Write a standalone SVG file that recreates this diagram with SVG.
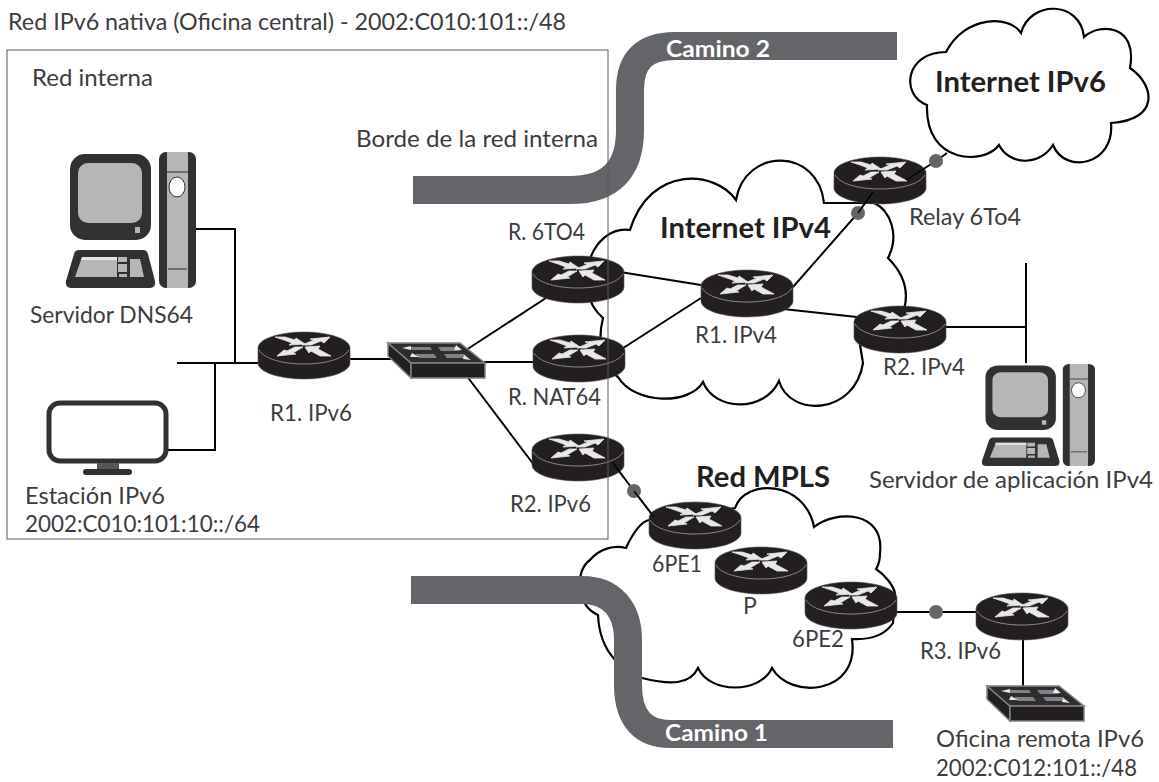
<svg xmlns="http://www.w3.org/2000/svg" xmlns:xlink="http://www.w3.org/1999/xlink" width="1159" height="782" viewBox="0 0 1159 782">
<style>
text{font-family:"Lato","Open Sans","Liberation Sans",sans-serif;font-size:23px;fill:#3c3c3e}
.b{font-weight:700;font-size:28px;fill:#231f20}
.w{font-weight:700;font-size:22px;fill:#fff}
.cloud{fill:#fff;stroke:#000;stroke-width:2.2}
.ln{fill:none;stroke:#000;stroke-width:2}
.way{fill:none;stroke:#636569;stroke-width:28}
.dot{fill:#636569}
</style>
<defs>
<g id="router">
<path d="M0 16C0 7 21 0 46 0S92 7 92 16V31C92 40 71 47 46 47S0 40 0 31Z" fill="#231f20" stroke="#555" stroke-width=".6"/>
<path d="M1 18C6 27 25 32 46 32S86 27 91 18" fill="none" stroke="#8a8a8a" stroke-width="1"/>
<g fill="#e8e8e8" stroke="#e8e8e8" stroke-width=".8" stroke-linejoin="round">
<path d="M17 5H27L37 8L38 6L47 12L31 13L34 11L26 8Z"/>
<path d="M44 13L56 8L52 7L72 5L66 11L63 9L53 13Z"/>
<path d="M45 15L35 21L38 22L19 24L26 18L29 19L37 15Z"/>
<path d="M47 15L62 14L60 17L73 24H62L53 19L51 21Z"/>
</g>
</g>
<g id="switch">
<path d="M0 13V0L23 20V35Z" fill="#231f20" stroke="#808285" stroke-width="1.5"/>
<path d="M0 0H72L97 20H23Z" fill="#2d2c2e" stroke="#808285" stroke-width="1.5"/>
<path d="M23 20H97V35H23Z" fill="#231f20" stroke="#808285" stroke-width="1.5"/>
<g fill="#808285"><path d="M20 4H42L44 7H24Z"/><path d="M50 4H68L72 8H53Z"/><path d="M27 11H46L49 15H31Z"/><path d="M56 11H76L80 15H59Z"/></g>
<g fill="#e8e8e8"><path d="M14 5L23 3V7Z"/><path d="M68 2L74 7H66Z"/><path d="M24 10L31 14H22Z"/><path d="M76 12L83 17L75 16Z"/></g>
</g>
<g id="computer">
<rect x="4" y="2" width="81" height="86" rx="15" fill="#2f3133"/>
<rect x="12" y="11" width="64" height="60" rx="10" fill="#b5b6b8"/>
<rect x="69" y="75" width="5" height="6" fill="#b5b6b8"/>
<path d="M13 98H77Q81 98 82 102L89 129Q90 136 84 136H5Q-1 136 0 129L8 102Q9 98 13 98Z" fill="#2f3133"/>
<path d="M16 105H51V125H9Z" fill="#b5b6b8"/>
<path d="M16 105H51V108H15Z" fill="#e3e3e3"/>
<path d="M52 105H61V110H52Z M52 112H61V120H52Z M53 122H61V125H53Z M64 107H74L78 125H64Z" fill="#b5b6b8"/>
<rect x="93" y="0" width="37" height="136" rx="7" fill="#2f3133"/>
<rect x="101" y="0" width="21" height="136" fill="#b5b6b8"/>
<rect x="101" y="19" width="21" height="2" fill="#6d6e70"/>
<rect x="102" y="116" width="19" height="2" fill="#6d6e70"/>
<ellipse cx="111" cy="35" rx="8" ry="10" fill="#fff" stroke="#2f3133" stroke-width="1"/>
</g>
</defs>

<g id="cloud-ipv6"><path class="cloud" d="M946 52C965 15 1010 15 1021 33C1030 0 1080 0 1084 37C1100 22 1138 25 1130 68C1155 85 1160 120 1111 123C1115 165 1065 175 1053 145C1040 166 1010 166 999 145C985 165 925 165 927 105C900 95 905 52 946 52Z"/><text class="b" x="935" y="92" textLength="171" lengthAdjust="spacingAndGlyphs">Internet IPv6</text></g>
<g id="cloud-ipv4"><path class="cloud" d="M824 203C818 147 745 147 736 200C715 170 650 165 630 230C590 225 570 290 603 318C600 330 595 360 618 377C635 405 690 405 703 382C715 412 765 412 779 381C790 418 855 415 863 363L860 345L900 320C912 295 905 275 888 258C900 235 890 210 874 203Z"/><text class="b" x="660" y="238" textLength="171" lengthAdjust="spacingAndGlyphs">Internet IPv4</text></g>
<g id="cloud-mpls"><path class="cloud" d="M735 508C745 478 805 480 814 527C835 510 885 510 880 553C880 560 878 566 876 569C885 575 893 585 895 593L893 623C885 635 870 640 852 639C860 695 790 700 772 668C760 694 710 694 698 668C690 685 670 685 642 678C630 672 600 660 598 615C575 605 575 570 590 560C600 548 615 545 626 548C632 535 640 522 649 520Z"/><text class="b" x="696" y="487" textLength="134" lengthAdjust="spacingAndGlyphs">Red MPLS</text></g>

<g id="paths">
<path class="way" d="M413 190H570C610 190 630 170 630 130V90C630 60 645 46 675 46H897"/>
<path class="way" d="M411 590H582C612 590 628 610 628 640V685C628 720 645 734 670 734H893"/>
<text class="w" x="666" y="57" textLength="104" lengthAdjust="spacingAndGlyphs">Camino 2</text>
<text class="w" x="665" y="741" textLength="103" lengthAdjust="spacingAndGlyphs">Camino 1</text>
</g>

<g id="connectors">
<path class="ln" d="M196 229H235V363M177 363H258M215 363V450H168"/>
<path class="ln" d="M350 359H392M470 362H533M463 352L546 298M457 363L534 465"/>
<path class="ln" d="M620 272L701 285M617 352L701 298M783 309L857 317M945 327H1027M1026 263V363"/>
<path class="ln" d="M793 287L858 213L873 192M906 180L936 161L947 153"/>
<path class="ln" d="M613 463L634 491L654 517M895 612H976M1023 635V688"/>
</g>

<g id="r1-ipv6"><use xlink:href="#router" x="258" y="332"/><text x="270" y="421" textLength="82" lengthAdjust="spacingAndGlyphs">R1. IPv6</text></g>
<g id="switch-central"><use xlink:href="#switch" x="388" y="343"/></g>
<g id="r-6to4"><use xlink:href="#router" x="532" y="256"/><text x="508" y="240" textLength="77" lengthAdjust="spacingAndGlyphs">R. 6TO4</text></g>
<g id="r-nat64"><use xlink:href="#router" x="533" y="335"/><text x="508" y="405" textLength="93" lengthAdjust="spacingAndGlyphs">R. NAT64</text></g>
<g id="r2-ipv6"><use xlink:href="#router" x="532" y="434"/><text x="510" y="512" textLength="81" lengthAdjust="spacingAndGlyphs">R2. IPv6</text></g>
<g id="r1-ipv4"><use xlink:href="#router" x="701" y="270"/><text x="695" y="343" textLength="82" lengthAdjust="spacingAndGlyphs">R1. IPv4</text></g>
<g id="r2-ipv4"><use xlink:href="#router" x="854" y="306"/><text x="883" y="375" textLength="82" lengthAdjust="spacingAndGlyphs">R2. IPv4</text></g>
<g id="relay"><use xlink:href="#router" x="834" y="157"/><text x="909" y="225" textLength="112" lengthAdjust="spacingAndGlyphs">Relay 6To4</text></g>
<g id="pe1"><use xlink:href="#router" x="649" y="502"/><text x="652" y="572" textLength="50" lengthAdjust="spacingAndGlyphs">6PE1</text></g>
<g id="p"><use xlink:href="#router" x="715" y="547"/><text x="743" y="614">P</text></g>
<g id="pe2"><use xlink:href="#router" x="805" y="582"/><text x="792" y="647" textLength="52" lengthAdjust="spacingAndGlyphs">6PE2</text></g>
<g id="r3-ipv6"><use xlink:href="#router" x="976" y="593"/><text x="920" y="659" textLength="81" lengthAdjust="spacingAndGlyphs">R3. IPv6</text></g>
<g id="switch-remota"><use xlink:href="#switch" x="987" y="686"/><text x="936" y="747" textLength="208" lengthAdjust="spacingAndGlyphs">Oficina remota IPv6</text><text x="936" y="776" textLength="201" lengthAdjust="spacingAndGlyphs">2002:C012:101::/48</text></g>

<g id="dots">
<circle class="dot" cx="858" cy="213" r="7"/><circle class="dot" cx="936" cy="161" r="7"/>
<circle class="dot" cx="634" cy="491" r="7"/><circle class="dot" cx="936" cy="612" r="7"/>
</g>
<path class="ln" style="stroke-width:1.4" d="M858 213L873 192M906 180L925 168M613 463L624 478M634 491L654 517"/>

<g id="servidor-dns64"><use xlink:href="#computer" x="66" y="152"/><text x="30" y="323" textLength="163" lengthAdjust="spacingAndGlyphs">Servidor DNS64</text></g>
<g id="servidor-app"><use xlink:href="#computer" transform="translate(982 364) scale(.869 .75)"/><text x="869" y="488" textLength="284" lengthAdjust="spacingAndGlyphs">Servidor de aplicación IPv4</text></g>
<g id="estacion"><rect x="49" y="403" width="117" height="58" rx="11" fill="#fff" stroke="#2f3133" stroke-width="5"/><rect x="97" y="463" width="22" height="7" fill="#55565a"/><rect x="83" y="469" width="49" height="6" rx="3" fill="#2f3133"/><text x="25" y="504" textLength="140" lengthAdjust="spacingAndGlyphs">Estación IPv6</text><text x="25" y="532" textLength="235" lengthAdjust="spacingAndGlyphs">2002:C010:101:10::/64</text></g>

<g id="red-interna"><rect x="7" y="50" width="601" height="489" fill="none" stroke="#58595b" stroke-width="1"/><text x="32" y="86" textLength="121" lengthAdjust="spacingAndGlyphs">Red interna</text><text x="356" y="147" textLength="242" lengthAdjust="spacingAndGlyphs">Borde de la red interna</text></g>
<text x="8" y="30" textLength="558" lengthAdjust="spacingAndGlyphs">Red IPv6 nativa (Oficina central) - 2002:C010:101::/48</text>
</svg>
